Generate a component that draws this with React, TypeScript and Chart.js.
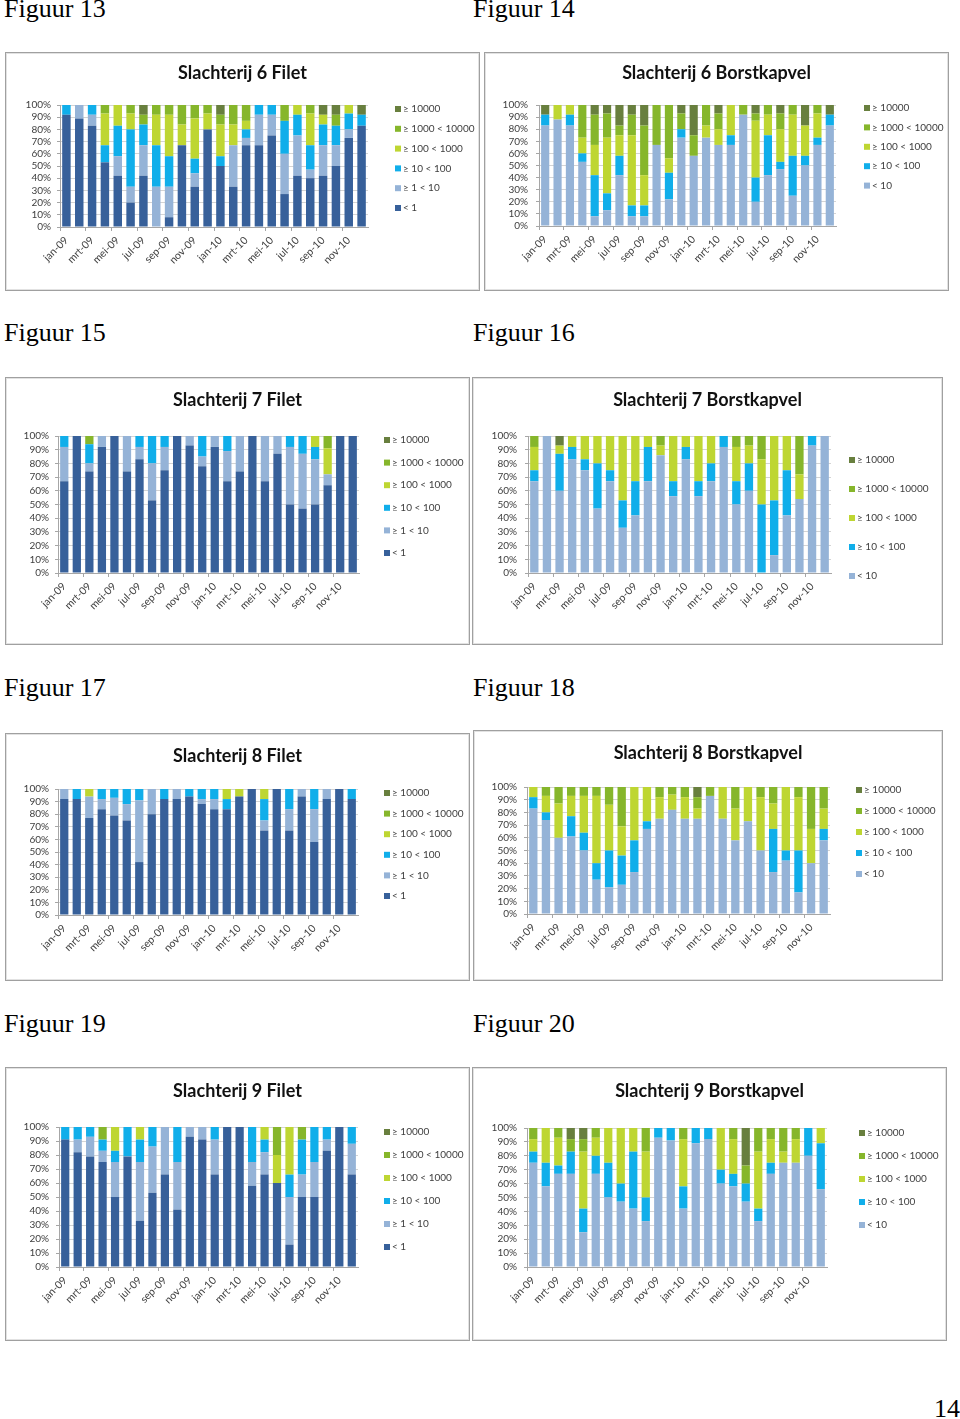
import React, { useEffect, useRef } from 'react';
import { Chart, registerables } from 'chart.js';

Chart.register(...registerables);

// ---------- categories & legend labels ----------
const months = [
  'jan-09', 'feb-09', 'mrt-09', 'apr-09', 'mei-09', 'jun-09', 'jul-09', 'aug-09', 'sep-09', 'okt-09', 'nov-09', 'dec-09',
  'jan-10', 'feb-10', 'mrt-10', 'apr-10', 'mei-10', 'jun-10', 'jul-10', 'aug-10', 'sep-10', 'okt-10', 'nov-10', 'dec-10',
];
const filetLabels = ['< 1', '≥ 1 < 10', '≥ 10 < 100', '≥ 100 < 1000', '≥ 1000 < 10000', '≥ 10000'];
const kapvelLabels = ['< 10', '≥ 10 < 100', '≥ 100 < 1000', '≥ 1000 < 10000', '≥ 10000'];

// ---------- Slachterij 6 Filet (Figuur 13) ----------
const s6FiletLt1 = [92, 89, 83, 53, 42, 20, 42, 0, 8, 67, 33, 80, 50, 33, 67, 67, 75, 27, 42, 40, 42, 50, 73, 83];
const s6Filet1to10 = [0, 11, 9, 0, 16, 13, 25, 33, 25, 0, 11, 0, 0, 34, 6, 25, 17, 33, 33, 7, 25, 17, 7, 0];
const s6Filet10to100 = [8, 0, 8, 14, 25, 47, 17, 34, 25, 0, 12, 0, 8, 0, 7, 8, 8, 27, 17, 20, 17, 16, 13, 9];
const s6Filet100to1000 = [0, 0, 0, 26, 17, 13, 0, 25, 34, 17, 33, 13, 26, 17, 7, 0, 0, 0, 8, 26, 8, 0, 7, 0];
const s6Filet1000to10000 = [0, 0, 0, 7, 0, 7, 8, 8, 8, 16, 11, 7, 8, 16, 13, 0, 0, 13, 0, 7, 0, 9, 0, 0];
const s6FiletGe10000 = [0, 0, 0, 0, 0, 0, 8, 0, 0, 0, 0, 0, 8, 0, 0, 0, 0, 0, 0, 0, 8, 8, 0, 8];

// ---------- Slachterij 6 Borstkapvel (Figuur 14) ----------
const s6KapLt10 = [83, 88, 83, 53, 8, 13, 42, 8, 8, 67, 22, 73, 58, 73, 67, 67, 92, 20, 42, 47, 25, 50, 67, 83];
const s6Kap10to100 = [9, 0, 9, 7, 34, 14, 16, 9, 9, 0, 22, 7, 0, 0, 0, 8, 0, 20, 33, 6, 33, 8, 6, 9];
const s6Kap100to1000 = [0, 12, 8, 13, 25, 46, 17, 58, 25, 0, 12, 0, 0, 10, 13, 25, 0, 47, 17, 27, 34, 25, 20, 0];
const s6Kap1000to10000 = [0, 0, 0, 27, 25, 20, 8, 17, 41, 33, 44, 13, 17, 17, 13, 0, 8, 6, 8, 13, 8, 0, 7, 0];
const s6KapGe10000 = [8, 0, 0, 0, 8, 7, 17, 8, 17, 0, 0, 7, 25, 0, 7, 0, 0, 7, 0, 7, 0, 17, 0, 8];

// ---------- Slachterij 7 Filet (Figuur 15) ----------
const s7FiletLt1 = [67, 100, 74, 92, 100, 74, 83, 53, 75, 100, 93, 78, 92, 67, 74, 100, 67, 87, 50, 47, 50, 64, 100, 100];
const s7Filet1to10 = [25, 0, 6, 8, 0, 26, 9, 27, 17, 0, 7, 7, 8, 22, 26, 0, 33, 13, 42, 40, 33, 8, 0, 0];
const s7Filet10to100 = [8, 0, 14, 0, 0, 0, 8, 20, 8, 0, 0, 15, 0, 11, 0, 0, 0, 0, 8, 13, 9, 0, 0, 0];
const s7Filet100to1000 = [0, 0, 0, 0, 0, 0, 0, 0, 0, 0, 0, 0, 0, 0, 0, 0, 0, 0, 0, 0, 8, 19, 0, 0];
const s7Filet1000to10000 = [0, 0, 6, 0, 0, 0, 0, 0, 0, 0, 0, 0, 0, 0, 0, 0, 0, 0, 0, 0, 0, 9, 0, 0];
const s7FiletGe10000 = [0, 0, 0, 0, 0, 0, 0, 0, 0, 0, 0, 0, 0, 0, 0, 0, 0, 0, 0, 0, 0, 0, 0, 0];

// ---------- Slachterij 7 Borstkapvel (Figuur 16) ----------
const s7KapLt10 = [67, 100, 60, 83, 75, 47, 67, 33, 42, 67, 86, 56, 83, 56, 67, 92, 50, 60, 0, 13, 42, 54, 93, 100];
const s7Kap10to100 = [8, 0, 27, 9, 8, 33, 8, 20, 25, 25, 0, 11, 9, 11, 13, 8, 17, 20, 50, 40, 33, 0, 7, 0];
const s7Kap100to1000 = [17, 0, 6, 8, 17, 20, 25, 47, 33, 8, 7, 33, 8, 33, 20, 0, 25, 13, 33, 47, 25, 18, 0, 0];
const s7Kap1000to10000 = [8, 0, 0, 0, 0, 0, 0, 0, 0, 0, 7, 0, 0, 0, 0, 0, 8, 7, 17, 0, 0, 28, 0, 0];
const s7KapGe10000 = [0, 0, 7, 0, 0, 0, 0, 0, 0, 0, 0, 0, 0, 0, 0, 0, 0, 0, 0, 0, 0, 0, 0, 0];

// ---------- Slachterij 8 Filet (Figuur 17) ----------
const s8FiletLt1 = [92, 92, 77, 84, 79, 75, 42, 80, 92, 92, 94, 88, 84, 84, 94, 100, 67, 100, 67, 94, 58, 92, 100, 92];
const s8Filet1to10 = [8, 0, 17, 8, 14, 13, 49, 20, 0, 8, 0, 4, 8, 0, 0, 0, 8, 0, 17, 6, 26, 8, 0, 0];
const s8Filet10to100 = [0, 8, 0, 8, 7, 12, 9, 0, 8, 0, 6, 8, 8, 8, 0, 0, 17, 0, 16, 0, 16, 0, 0, 8];
const s8Filet100to1000 = [0, 0, 6, 0, 0, 0, 0, 0, 0, 0, 0, 0, 0, 8, 6, 0, 8, 0, 0, 0, 0, 0, 0, 0];
const s8Filet1000to10000 = [0, 0, 0, 0, 0, 0, 0, 0, 0, 0, 0, 0, 0, 0, 0, 0, 0, 0, 0, 0, 0, 0, 0, 0];
const s8FiletGe10000 = [0, 0, 0, 0, 0, 0, 0, 0, 0, 0, 0, 0, 0, 0, 0, 0, 0, 0, 0, 0, 0, 0, 0, 0];

// ---------- Slachterij 8 Borstkapvel (Figuur 18) ----------
const s8KapLt10 = [83, 74, 60, 61, 50, 27, 21, 23, 33, 67, 75, 82, 75, 75, 93, 75, 58, 73, 50, 33, 42, 17, 40, 58];
const s8Kap10to100 = [9, 6, 0, 16, 14, 13, 29, 23, 25, 6, 0, 0, 0, 0, 0, 0, 0, 0, 0, 34, 8, 33, 0, 9];
const s8Kap100to1000 = [8, 13, 27, 16, 29, 53, 36, 23, 42, 27, 17, 12, 17, 8, 0, 25, 25, 27, 42, 20, 50, 42, 27, 16];
const s8Kap1000to10000 = [0, 7, 13, 7, 7, 7, 14, 31, 0, 0, 8, 6, 8, 9, 7, 0, 17, 0, 8, 13, 0, 8, 33, 17];
const s8KapGe10000 = [0, 0, 0, 0, 0, 0, 0, 0, 0, 0, 0, 0, 0, 8, 0, 0, 0, 0, 0, 0, 0, 0, 0, 0];

// ---------- Slachterij 9 Filet (Figuur 19) ----------
const s9FiletLt1 = [91, 82, 79, 75, 50, 79, 33, 53, 66, 41, 93, 91, 66, 100, 100, 58, 66, 60, 16, 50, 50, 83, 100, 66];
const s9Filet1to10 = [0, 9, 14, 8, 25, 0, 42, 33, 34, 34, 7, 9, 25, 0, 0, 17, 16, 0, 34, 16, 25, 8, 0, 22];
const s9Filet10to100 = [9, 9, 7, 8, 8, 21, 16, 14, 0, 25, 0, 0, 9, 0, 0, 25, 9, 0, 16, 25, 25, 9, 0, 12];
const s9Filet100to1000 = [0, 0, 0, 0, 17, 0, 9, 0, 0, 0, 0, 0, 0, 0, 0, 0, 9, 20, 34, 0, 0, 0, 0, 0];
const s9Filet1000to10000 = [0, 0, 0, 9, 0, 0, 0, 0, 0, 0, 0, 0, 0, 0, 0, 0, 0, 20, 0, 9, 0, 0, 0, 0];
const s9FiletGe10000 = [0, 0, 0, 0, 0, 0, 0, 0, 0, 0, 0, 0, 0, 0, 0, 0, 0, 0, 0, 0, 0, 0, 0, 0];

// ---------- Slachterij 9 Borstkapvel (Figuur 20) ----------
const s9KapLt10 = [75, 58, 67, 67, 25, 67, 50, 47, 42, 33, 93, 91, 42, 89, 92, 60, 58, 47, 33, 67, 75, 75, 80, 56];
const s9Kap10to100 = [8, 17, 6, 16, 17, 13, 25, 13, 41, 17, 7, 9, 16, 11, 8, 10, 9, 13, 9, 8, 0, 0, 20, 33];
const s9Kap100to1000 = [9, 25, 20, 0, 41, 13, 25, 40, 17, 33, 0, 0, 34, 0, 0, 30, 25, 0, 41, 17, 8, 17, 0, 11];
const s9Kap1000to10000 = [8, 0, 7, 9, 9, 7, 0, 0, 0, 17, 0, 0, 8, 0, 0, 0, 8, 13, 17, 8, 17, 8, 0, 0];
const s9KapGe10000 = [0, 0, 0, 8, 8, 0, 0, 0, 0, 0, 0, 0, 0, 0, 0, 0, 0, 27, 0, 0, 0, 0, 0, 0];

// ---------- colours ----------
const NAVY = '#37609A';
const LIGHT = '#95B3D7';
const CYAN = '#10AEEA';
const YELLOW = '#BED632';
const GREEN = '#86B62B';
const OLIVE = '#687F3E';
const filetColors = [NAVY, LIGHT, CYAN, YELLOW, GREEN, OLIVE];
const kapColors = [LIGHT, CYAN, YELLOW, GREEN, OLIVE];

type Spec = { title: string; labels: string[]; colors: string[]; series: number[][] };

const specs: Spec[] = [
  { title: 'Slachterij 6 Filet', labels: filetLabels, colors: filetColors,
    series: [s6FiletLt1, s6Filet1to10, s6Filet10to100, s6Filet100to1000, s6Filet1000to10000, s6FiletGe10000] },
  { title: 'Slachterij 6 Borstkapvel', labels: kapvelLabels, colors: kapColors,
    series: [s6KapLt10, s6Kap10to100, s6Kap100to1000, s6Kap1000to10000, s6KapGe10000] },
  { title: 'Slachterij 7 Filet', labels: filetLabels, colors: filetColors,
    series: [s7FiletLt1, s7Filet1to10, s7Filet10to100, s7Filet100to1000, s7Filet1000to10000, s7FiletGe10000] },
  { title: 'Slachterij 7 Borstkapvel', labels: kapvelLabels, colors: kapColors,
    series: [s7KapLt10, s7Kap10to100, s7Kap100to1000, s7Kap1000to10000, s7KapGe10000] },
  { title: 'Slachterij 8 Filet', labels: filetLabels, colors: filetColors,
    series: [s8FiletLt1, s8Filet1to10, s8Filet10to100, s8Filet100to1000, s8Filet1000to10000, s8FiletGe10000] },
  { title: 'Slachterij 8 Borstkapvel', labels: kapvelLabels, colors: kapColors,
    series: [s8KapLt10, s8Kap10to100, s8Kap100to1000, s8Kap1000to10000, s8KapGe10000] },
  { title: 'Slachterij 9 Filet', labels: filetLabels, colors: filetColors,
    series: [s9FiletLt1, s9Filet1to10, s9Filet10to100, s9Filet100to1000, s9Filet1000to10000, s9FiletGe10000] },
  { title: 'Slachterij 9 Borstkapvel', labels: kapvelLabels, colors: kapColors,
    series: [s9KapLt10, s9Kap10to100, s9Kap100to1000, s9Kap1000to10000, s9KapGe10000] },
];

// ---------- page layout (positions only) ----------
type Lay = {
  cap: string; capX: number; capBase: number;
  box: [number, number, number, number];   // x, y, w, h
  plot: [number, number, number, number];  // left, right, top, bottom
  titleY: number; gap: number;
  leg: [number, number, number];           // square x, first item y, step
};

const layouts: Lay[] = [
  { cap: 'Figuur 13', capX: 4, capBase: 18, box: [5, 52, 475, 239], plot: [60, 368, 105, 227], titleY: 73, gap: 9, leg: [395, 109, 19.8] },
  { cap: 'Figuur 14', capX: 473, capBase: 18, box: [484, 52, 465, 239], plot: [539, 836, 105, 226], titleY: 73, gap: 11, leg: [864, 108, 19.4] },
  { cap: 'Figuur 15', capX: 4, capBase: 342, box: [5, 377, 465, 268], plot: [58, 359, 436, 573], titleY: 400, gap: 9, leg: [384, 440, 22.6] },
  { cap: 'Figuur 16', capX: 473, capBase: 342, box: [472, 377, 471, 268], plot: [528, 831, 436, 573], titleY: 400, gap: 11, leg: [849, 460, 29] },
  { cap: 'Figuur 17', capX: 4, capBase: 697, box: [5, 733, 465, 248], plot: [58, 358, 789, 915], titleY: 756, gap: 9, leg: [384, 793, 20.6] },
  { cap: 'Figuur 18', capX: 473, capBase: 697, box: [473, 730, 470, 251], plot: [527, 830, 787, 914], titleY: 753, gap: 10, leg: [856, 790, 21] },
  { cap: 'Figuur 19', capX: 4, capBase: 1033, box: [5, 1067, 465, 274], plot: [59, 358, 1127, 1267], titleY: 1091, gap: 10, leg: [384, 1132, 23] },
  { cap: 'Figuur 20', capX: 473, capBase: 1033, box: [472, 1067, 475, 274], plot: [527, 827, 1128, 1267], titleY: 1091, gap: 10, leg: [859, 1133, 23] },
];

const FONT = 'Lato, "Open Sans", sans-serif';

function ChartBox({ spec, lay }: { spec: Spec; lay: Lay }) {
  const ref = useRef<HTMLCanvasElement | null>(null);
  useEffect(() => {
    const canvas = ref.current;
    if (!canvas) return;
    const [bx, by, bw, bh] = lay.box;
    const [pl, pr, pt, pb] = lay.plot;
    const titleSize = 18;
    const lh = titleSize * 1.2;
    const padTop = lay.titleY - by - lh / 2;
    const padBottom = pt - by - padTop - lh;

    const sideLegend = {
      id: 'sideLegend',
      afterDraw(chart: any) {
        const ctx = chart.ctx;
        const dss = chart.data.datasets;
        const n = dss.length;
        ctx.save();
        ctx.font = `10px ${FONT}`;
        ctx.textBaseline = 'middle';
        ctx.textAlign = 'left';
        for (let k = 0; k < n; k++) {
          const ds = dss[n - 1 - k];
          const y = lay.leg[1] - by + k * lay.leg[2];
          const x = lay.leg[0] - bx;
          ctx.fillStyle = ds.backgroundColor;
          ctx.fillRect(x, y - 3, 6, 6);
          ctx.fillStyle = '#404040';
          ctx.fillText(ds.label, x + 8, y);
        }
        ctx.restore();
      },
    };

    const chart = new Chart(canvas, {
      type: 'bar',
      data: {
        labels: months,
        datasets: spec.series.map((d, i) => ({
          label: spec.labels[i],
          data: d,
          backgroundColor: spec.colors[i],
          borderWidth: 0,
          barPercentage: 0.66,
          categoryPercentage: 1,
          yAxisID: 'y',
        })),
      },
      options: {
        animation: false,
        responsive: false,
        maintainAspectRatio: false,
        layout: { padding: 0 },
        plugins: {
          legend: { display: false },
          tooltip: { enabled: false },
          title: {
            display: true,
            text: spec.title,
            color: '#111',
            font: { family: FONT, size: titleSize, weight: 'bold', lineHeight: 1.2 },
            padding: { top: padTop, bottom: padBottom },
          },
        },
        scales: {
          x: {
            stacked: true,
            offset: true,
            grid: {
              display: true,
              drawOnChartArea: false,
              offset: true,
              tickLength: 4,
              color: (c: any) => (c.index % 2 === 0 ? '#a6a6a6' : 'rgba(0,0,0,0)'),
            },
            border: { display: true, color: '#a6a6a6' },
            ticks: {
              autoSkip: false,
              minRotation: 45,
              maxRotation: 45,
              padding: 3,
              color: '#404040',
              font: { family: FONT, size: 10.5 },
              callback: (_v: any, i: number) => (i % 2 === 0 ? months[i] : ''),
            },
            afterFit: (s: any) => { s.height = by + bh - pb; },
          },
          y: {
            stacked: true,
            min: 0,
            max: 100,
            grid: { color: '#d4d4d4', tickLength: 3, tickColor: '#a6a6a6' },
            border: { display: true, color: '#a6a6a6' },
            ticks: {
              stepSize: 10,
              autoSkip: false,
              padding: lay.gap - 3,
              color: '#404040',
              font: { family: FONT, size: 10 },
              callback: (v: any) => `${v}%`,
            },
            afterFit: (s: any) => { s.width = pl - bx; },
          },
          yR: {
            type: 'linear',
            position: 'right',
            display: true,
            grid: { display: false, drawTicks: false },
            ticks: { display: false },
            border: { display: false },
            afterFit: (s: any) => { s.width = bx + bw - pr; },
          },
        },
      } as any,
      plugins: [sideLegend],
    });
    return () => chart.destroy();
  }, [spec, lay]);

  const [bx, by, bw, bh] = lay.box;
  return (
    <>
      <canvas
        ref={ref}
        width={bw}
        height={bh}
        style={{ position: 'absolute', left: bx, top: by, width: bw, height: bh, background: '#fff' }}
      />
      <div
        style={{
          position: 'absolute', left: bx, top: by, width: bw, height: bh, boxSizing: 'border-box',
          border: '1px solid #a0a0a0', boxShadow: 'inset 0 0 0 1px #e2e2e2', pointerEvents: 'none',
        }}
      />
      <div
        style={{
          position: 'absolute', left: lay.capX, top: lay.capBase - 21.8, fontFamily: '"Liberation Serif", "Times New Roman", serif',
          fontSize: 26, lineHeight: '26px', color: '#000', whiteSpace: 'nowrap',
        }}
      >
        {lay.cap}
      </div>
    </>
  );
}

export default function App() {
  return (
    <div style={{ position: 'absolute', left: 0, top: 0, width: 960, height: 1419, background: '#fff', overflow: 'hidden' }}>
      {specs.map((s, i) => (
        <ChartBox key={i} spec={s} lay={layouts[i]} />
      ))}
      <div
        style={{
          position: 'absolute', left: 934, top: 1418 - 21.8, fontFamily: '"Liberation Serif", "Times New Roman", serif',
          fontSize: 26, lineHeight: '26px', color: '#000',
        }}
      >
        14
      </div>
    </div>
  );
}
